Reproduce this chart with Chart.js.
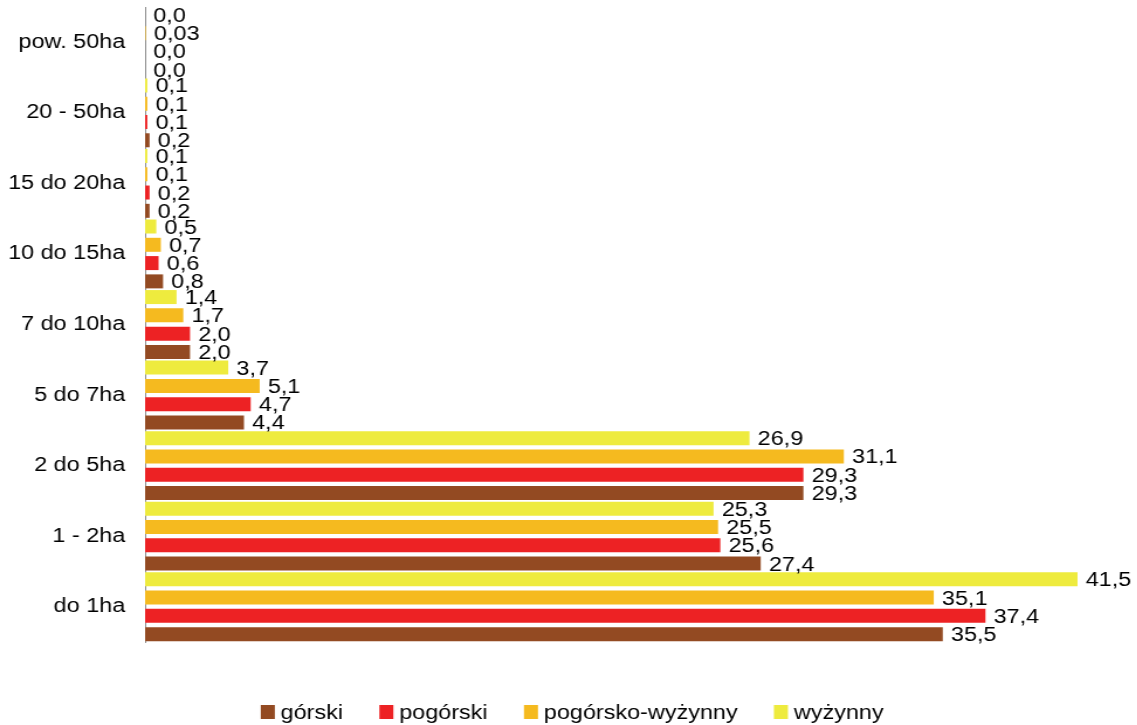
<!DOCTYPE html>
<html>
<head>
<meta charset="UTF-8">
<title>Gospodarstwa wg grup obszarowych</title>
<script src="https://cdn.jsdelivr.net/npm/chart.js"></script>
<style>
    body { margin: 0; background: #fff; overflow: hidden; }
    #wrap { width: 1137px; height: 725px; }
    /* the source picture is stretched sideways, so draw narrow and scale it */
    #chart { transform: scaleX(1.17); transform-origin: 0 0; }
</style>
</head>
<body>
<div id="wrap"><canvas id="chart" width="972" height="725"></canvas></div>
<script>
const categories = ['pow. 50ha', '20 - 50ha', '15 do 20ha', '10 do 15ha', '7 do 10ha', '5 do 7ha', '2 do 5ha', '1 - 2ha', 'do 1ha'];
const gorski          = [0.0,  0.2, 0.2, 0.8, 2.0, 4.4, 29.3, 27.4, 35.5];
const pogorski        = [0.0,  0.1, 0.2, 0.6, 2.0, 4.7, 29.3, 25.6, 37.4];
const pogorskoWyzynny = [0.03, 0.1, 0.1, 0.7, 1.7, 5.1, 31.1, 25.5, 35.1];
const wyzynny         = [0.0,  0.1, 0.1, 0.5, 1.4, 3.7, 26.9, 25.3, 41.5];

const FONT = "'Liberation Sans', Arial, sans-serif";

function fmt(v) {
    const t = v.toFixed(1);
    return (parseFloat(t) === v ? t : String(v)).replace('.', ',');
}

// value next to the end of each bar
const valueLabels = {
    id: 'valueLabels',
    afterDatasetsDraw(chart) {
        const ctx = chart.ctx;
        ctx.save();
        ctx.font = '20px ' + FONT;
        ctx.fillStyle = '#000';
        ctx.textAlign = 'left';
        ctx.textBaseline = 'alphabetic';
        chart.data.datasets.forEach((ds, i) => {
            chart.getDatasetMeta(i).data.forEach((bar, j) => {
                ctx.fillText(fmt(ds.data[j]), bar.x + 7, bar.y + 7);
            });
        });
        ctx.restore();
    }
};

// legend at the bottom, górski first
const bottomLegend = {
    id: 'bottomLegend',
    afterDraw(chart) {
        const ctx = chart.ctx;
        const items = chart.data.datasets.slice().reverse();
        ctx.save();
        ctx.font = '20px ' + FONT;
        const boxW = 12, boxH = 14, toText = 17, gap = 31;
        let total = 0;
        items.forEach((ds, i) => {
            total += toText + ctx.measureText(ds.label).width + (i < items.length - 1 ? gap : 0);
        });
        let x = 489 - total / 2;
        const y = 712;
        ctx.textBaseline = 'middle';
        ctx.textAlign = 'left';
        items.forEach(ds => {
            ctx.fillStyle = ds.backgroundColor;
            ctx.fillRect(x, y - boxH / 2, boxW, boxH);
            ctx.fillStyle = '#000';
            ctx.fillText(ds.label, x + toText, y + 1);
            x += toText + ctx.measureText(ds.label).width + gap;
        });
        ctx.restore();
    }
};

new Chart(document.getElementById('chart'), {
    type: 'bar',
    data: {
        labels: categories,
        datasets: [
            { label: 'wyżynny', data: wyzynny, backgroundColor: '#EEEB3E' },
            { label: 'pogórsko-wyżynny', data: pogorskoWyzynny, backgroundColor: '#F5BA1F' },
            { label: 'pogórski', data: pogorski, backgroundColor: '#ED2224' },
            { label: 'górski', data: gorski, backgroundColor: '#934A22' }
        ]
    },
    options: {
        indexAxis: 'y',
        responsive: false,
        animation: false,
        devicePixelRatio: 1,
        categoryPercentage: 1.037,
        barPercentage: 0.765,
        layout: { padding: { left: 7, right: 3, top: 7, bottom: 83 } },
        plugins: {
            legend: { display: false },
            tooltip: { enabled: false }
        },
        scales: {
            x: { display: false, min: 0, max: 44 },
            y: {
                grid: { display: false, drawTicks: false },
                border: { display: true, color: '#8a8a8a', width: 1 },
                ticks: {
                    color: '#000',
                    padding: 17,
                    font: { family: FONT, size: 20 }
                },
                afterFit(scale) {
                    scale.width = 117;
                    scale.paddingTop = 0;
                    scale.paddingBottom = 0;
                }
            }
        }
    },
    plugins: [valueLabels, bottomLegend]
});
</script>
</body>
</html>
